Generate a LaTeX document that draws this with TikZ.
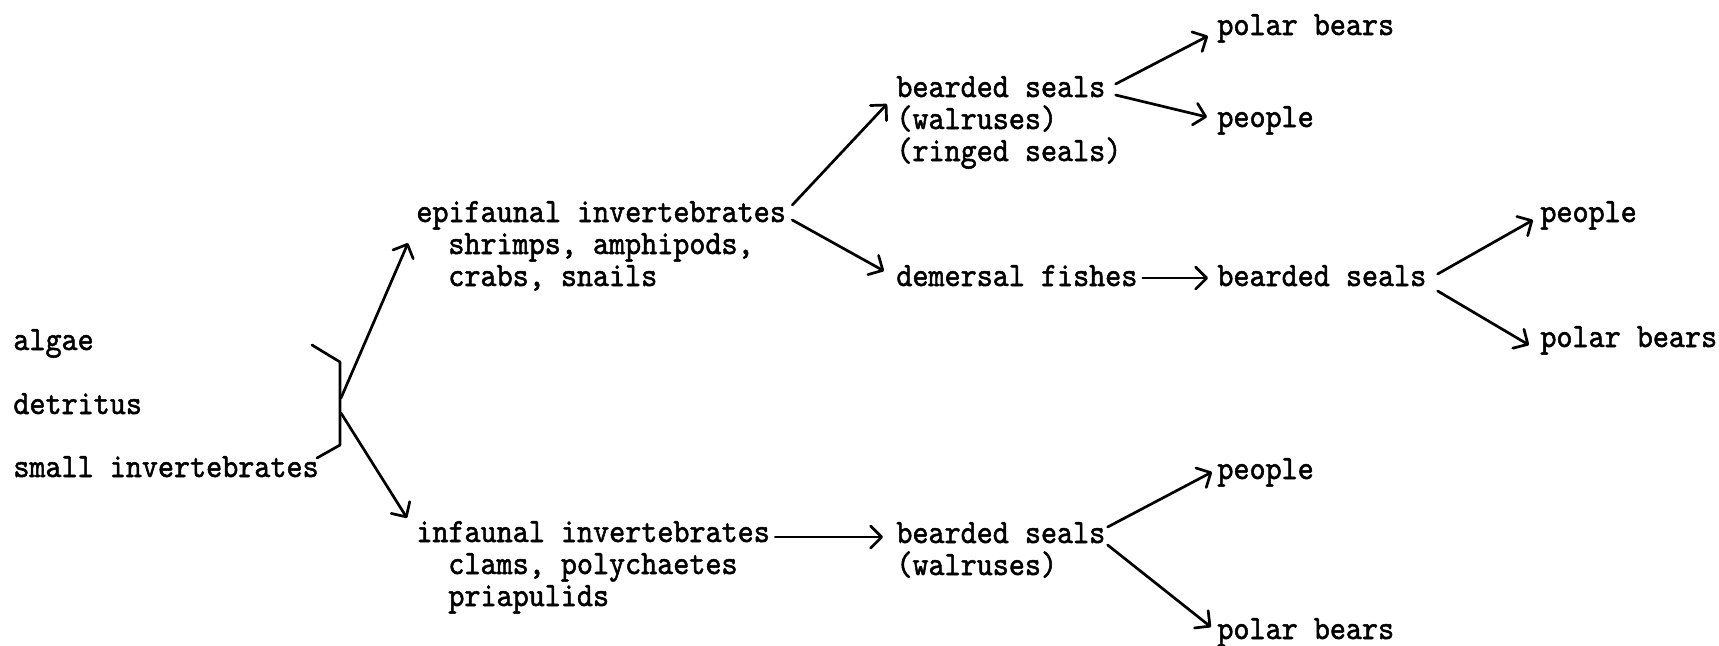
\documentclass[tikz,border=0pt]{standalone}
\usepackage{fontspec}
\newfontfamily\tw{lmmono10-regular.otf}[FakeStretch=0.9,FakeBold=1.5]
\usetikzlibrary{arrows.meta,calc}
\begin{document}
\begin{tikzpicture}[x=0.5pt,y=-0.5pt,
  txt/.style={anchor=base west,inner sep=0pt,font=\tw\fontsize{17pt}{20pt}\selectfont},
  link/.style={line width=1.35pt,line cap=round,line join=round,
    -{Straight Barb[length=5.5pt,width=11pt,line cap=round,line join=round]}},
  bracepath/.style={line width=1.35pt,line cap=round,line join=round}]
\useasboundingbox (0,0) rectangle (1719,645);
% column 0
\node[txt] (alg) at (13,350) {algae};
\node[txt] (det) at (13,414) {detritus};
\node[txt] (smi) at (13,477) {small invertebrates};
% column 1
\node[txt] (epi) at (416,222) {epifaunal invertebrates};
\node[txt] (shr) at (448,254) {shrimps, amphipods,};
\node[txt] (crb) at (448,286) {crabs, snails};
\node[txt] (inf) at (416,542) {infaunal invertebrates};
\node[txt] (clm) at (448,574) {clams, polychaetes};
\node[txt] (pri) at (448,606) {priapulids};
% column 2
\node[txt] (bs1) at (896,97) {bearded seals};
\node[txt] (wal1) at (896,129) {(walruses)};
\node[txt] (rng) at (896,161) {(ringed seals)};
\node[txt] (dem) at (896,286) {demersal fishes};
\node[txt] (bs3) at (896,543) {bearded seals};
\node[txt] (wal3) at (896,575) {(walruses)};
% column 3
\node[txt] (pb1) at (1217,35) {polar bears};
\node[txt] (pe1) at (1217,127) {people};
\node[txt] (bs2) at (1217,286) {bearded seals};
\node[txt] (pe3) at (1217,479) {people};
\node[txt] (pb3) at (1217,639) {polar bears};
% column 4
\node[txt] (pe2) at (1540,222) {people};
\node[txt] (pb2) at (1540,347) {polar bears};
% brace
\draw[bracepath] (312,345) -- (340,362) -- (340,445) -- (317,458);
\coordinate (brU) at (341,398);
\coordinate (brD) at (341,413);
\draw[link] (brU) -- ($(epi.base west)+(-8,21)$);
\draw[link] (brD) -- ($(inf.base west)+(-9,-24)$);
% epifaunal branch
\draw[link] ($(epi.base east)+(6,-17)$) -- ($(bs1.base west)+(-9,7)$);
\draw[link] ($(epi.base east)+(6,-2)$) -- ($(dem.base west)+(-12,-15)$);
\draw[link] ($(bs1.base east)+(10,-13)$) -- ($(pb1.base west)+(-9,1)$);
\draw[link] ($(bs1.base east)+(10,-2)$) -- ($(pe1.base west)+(-10,-10)$);
\draw[link] ($(dem.base east)+(5,-8)$) -- ($(bs2.base west)+(-9,-8)$);
\draw[link] ($(bs2.base east)+(11,-12)$) -- ($(pe2.base west)+(-7,-2)$);
\draw[link] ($(bs2.base east)+(11,5)$) -- ($(pb2.base west)+(-11,-2)$);
% infaunal branch
\draw[link] ($(inf.base east)+(5,-5)$) -- ($(bs3.base west)+(-13,-6)$);
\draw[link] ($(bs3.base east)+(2,-16)$) -- ($(pe3.base west)+(-5,-7)$);
\draw[link] ($(bs3.base east)+(2,2)$) -- ($(pb3.base west)+(-6,-12)$);
\end{tikzpicture}
\end{document}
